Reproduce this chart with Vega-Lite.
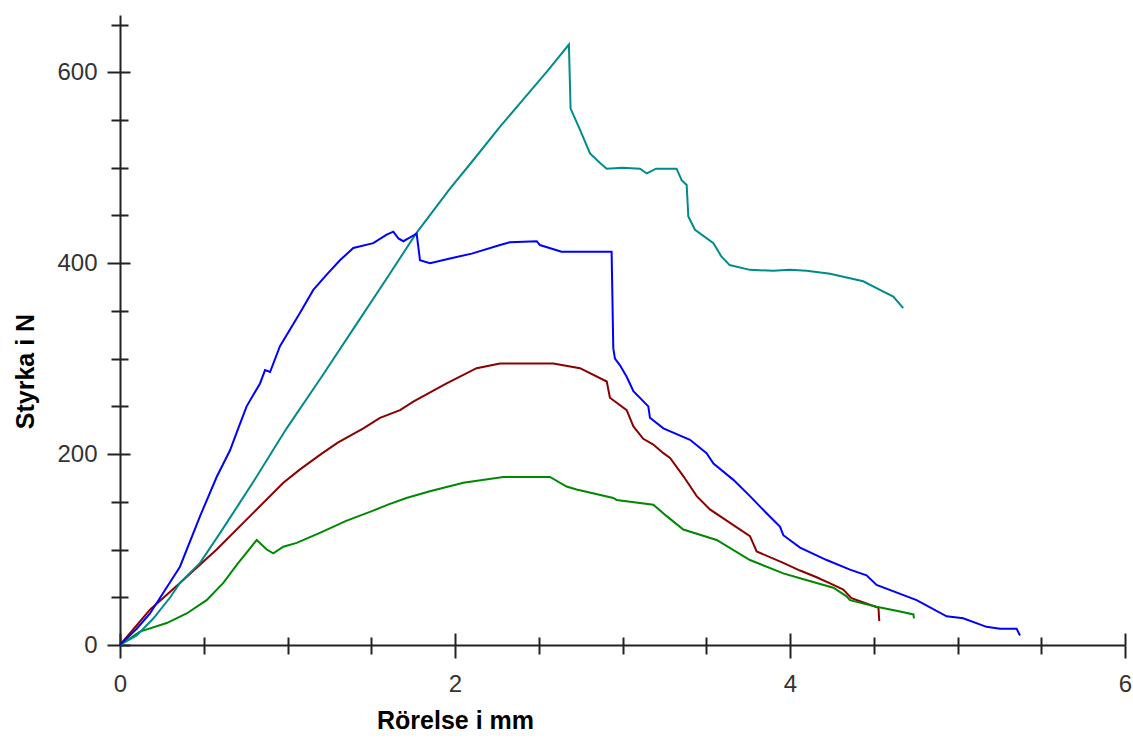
{
  "$schema": "https://vega.github.io/schema/vega-lite/v6.json",
  "width": 1005,
  "height": 630,
  "autosize": "none",
  "padding": {"left": 120, "top": 15, "right": 8, "bottom": 93},
  "background": "white",
  "config": {"view": {"stroke": null}, "font": "Liberation Sans"},
  "data": {"values": [
    {"s":"teal","i":0,"x":0,"y":0},{"s":"teal","i":1,"x":0.1,"y":10},{"s":"teal","i":2,"x":0.2,"y":28},{"s":"teal","i":3,"x":0.3,"y":50},{"s":"teal","i":4,"x":0.358,"y":65},{"s":"teal","i":5,"x":0.478,"y":86},{"s":"teal","i":6,"x":0.6,"y":118},{"s":"teal","i":7,"x":0.7,"y":145},{"s":"teal","i":8,"x":0.8,"y":172},{"s":"teal","i":9,"x":0.913,"y":204},{"s":"teal","i":10,"x":0.995,"y":227},{"s":"teal","i":11,"x":1.2,"y":280},{"s":"teal","i":12,"x":1.4,"y":333},{"s":"teal","i":13,"x":1.6,"y":386},{"s":"teal","i":14,"x":1.767,"y":431},{"s":"teal","i":15,"x":1.97,"y":478},{"s":"teal","i":16,"x":2.1,"y":506},{"s":"teal","i":17,"x":2.269,"y":543},{"s":"teal","i":18,"x":2.4,"y":570},{"s":"teal","i":19,"x":2.55,"y":601},{"s":"teal","i":20,"x":2.68,"y":629},{"s":"teal","i":21,"x":2.69,"y":562},{"s":"teal","i":22,"x":2.746,"y":540},{"s":"teal","i":23,"x":2.806,"y":515},{"s":"teal","i":24,"x":2.866,"y":505},{"s":"teal","i":25,"x":2.906,"y":499},{"s":"teal","i":26,"x":3.0,"y":500},{"s":"teal","i":27,"x":3.104,"y":499},{"s":"teal","i":28,"x":3.145,"y":494},{"s":"teal","i":29,"x":3.2,"y":499},{"s":"teal","i":30,"x":3.323,"y":499},{"s":"teal","i":31,"x":3.353,"y":487},{"s":"teal","i":32,"x":3.383,"y":482},{"s":"teal","i":33,"x":3.393,"y":449},{"s":"teal","i":34,"x":3.433,"y":435},{"s":"teal","i":35,"x":3.543,"y":421},{"s":"teal","i":36,"x":3.59,"y":407},{"s":"teal","i":37,"x":3.64,"y":398},{"s":"teal","i":38,"x":3.76,"y":393},{"s":"teal","i":39,"x":3.9,"y":392},{"s":"teal","i":40,"x":4.0,"y":393},{"s":"teal","i":41,"x":4.1,"y":392},{"s":"teal","i":42,"x":4.239,"y":389},{"s":"teal","i":43,"x":4.437,"y":381},{"s":"teal","i":44,"x":4.537,"y":372},{"s":"teal","i":45,"x":4.617,"y":365},{"s":"teal","i":46,"x":4.676,"y":353},
    {"s":"blue","i":0,"x":0,"y":0},{"s":"blue","i":1,"x":0.01,"y":2},{"s":"blue","i":2,"x":0.1,"y":17},{"s":"blue","i":3,"x":0.179,"y":33},{"s":"blue","i":4,"x":0.358,"y":82},{"s":"blue","i":5,"x":0.478,"y":135},{"s":"blue","i":6,"x":0.577,"y":176},{"s":"blue","i":7,"x":0.657,"y":204},{"s":"blue","i":8,"x":0.706,"y":227},{"s":"blue","i":9,"x":0.756,"y":250},{"s":"blue","i":10,"x":0.836,"y":274},{"s":"blue","i":11,"x":0.866,"y":288},{"s":"blue","i":12,"x":0.896,"y":286},{"s":"blue","i":13,"x":0.955,"y":313},{"s":"blue","i":14,"x":1.075,"y":348},{"s":"blue","i":15,"x":1.154,"y":372},{"s":"blue","i":16,"x":1.234,"y":388},{"s":"blue","i":17,"x":1.313,"y":403},{"s":"blue","i":18,"x":1.393,"y":416},{"s":"blue","i":19,"x":1.512,"y":421},{"s":"blue","i":20,"x":1.592,"y":430},{"s":"blue","i":21,"x":1.632,"y":433},{"s":"blue","i":22,"x":1.662,"y":426},{"s":"blue","i":23,"x":1.692,"y":423},{"s":"blue","i":24,"x":1.751,"y":429},{"s":"blue","i":25,"x":1.771,"y":431},{"s":"blue","i":26,"x":1.791,"y":403},{"s":"blue","i":27,"x":1.851,"y":400},{"s":"blue","i":28,"x":1.97,"y":405},{"s":"blue","i":29,"x":2.1,"y":410},{"s":"blue","i":30,"x":2.269,"y":419},{"s":"blue","i":31,"x":2.328,"y":422},{"s":"blue","i":32,"x":2.488,"y":423},{"s":"blue","i":33,"x":2.507,"y":419},{"s":"blue","i":34,"x":2.636,"y":412},{"s":"blue","i":35,"x":2.935,"y":412},{"s":"blue","i":36,"x":2.945,"y":311},{"s":"blue","i":37,"x":2.955,"y":300},{"s":"blue","i":38,"x":2.985,"y":293},{"s":"blue","i":39,"x":3.025,"y":281},{"s":"blue","i":40,"x":3.065,"y":266},{"s":"blue","i":41,"x":3.154,"y":250},{"s":"blue","i":42,"x":3.164,"y":238},{"s":"blue","i":43,"x":3.244,"y":227},{"s":"blue","i":44,"x":3.403,"y":215},{"s":"blue","i":45,"x":3.502,"y":201},{"s":"blue","i":46,"x":3.543,"y":190},{"s":"blue","i":47,"x":3.662,"y":173},{"s":"blue","i":48,"x":3.761,"y":156},{"s":"blue","i":49,"x":3.86,"y":138},{"s":"blue","i":50,"x":3.94,"y":124},{"s":"blue","i":51,"x":3.96,"y":115},{"s":"blue","i":52,"x":4.06,"y":102},{"s":"blue","i":53,"x":4.219,"y":89},{"s":"blue","i":54,"x":4.358,"y":79},{"s":"blue","i":55,"x":4.457,"y":73},{"s":"blue","i":56,"x":4.517,"y":63},{"s":"blue","i":57,"x":4.756,"y":47},{"s":"blue","i":58,"x":4.935,"y":30},{"s":"blue","i":59,"x":5.034,"y":28},{"s":"blue","i":60,"x":5.173,"y":19},{"s":"blue","i":61,"x":5.254,"y":17},{"s":"blue","i":62,"x":5.353,"y":17},{"s":"blue","i":63,"x":5.373,"y":10},
    {"s":"red","i":0,"x":0,"y":0},{"s":"red","i":1,"x":0.179,"y":37},{"s":"red","i":2,"x":0.358,"y":65},{"s":"red","i":3,"x":0.577,"y":100},{"s":"red","i":4,"x":0.776,"y":135},{"s":"red","i":5,"x":0.975,"y":170},{"s":"red","i":6,"x":1.075,"y":184},{"s":"red","i":7,"x":1.2,"y":200},{"s":"red","i":8,"x":1.3,"y":212},{"s":"red","i":9,"x":1.453,"y":227},{"s":"red","i":10,"x":1.552,"y":238},{"s":"red","i":11,"x":1.672,"y":246},{"s":"red","i":12,"x":1.751,"y":255},{"s":"red","i":13,"x":1.95,"y":274},{"s":"red","i":14,"x":2.129,"y":290},{"s":"red","i":15,"x":2.269,"y":295},{"s":"red","i":16,"x":2.587,"y":295},{"s":"red","i":17,"x":2.746,"y":290},{"s":"red","i":18,"x":2.906,"y":276},{"s":"red","i":19,"x":2.925,"y":259},{"s":"red","i":20,"x":3.025,"y":246},{"s":"red","i":21,"x":3.065,"y":229},{"s":"red","i":22,"x":3.124,"y":216},{"s":"red","i":23,"x":3.184,"y":210},{"s":"red","i":24,"x":3.244,"y":201},{"s":"red","i":25,"x":3.284,"y":196},{"s":"red","i":26,"x":3.363,"y":177},{"s":"red","i":27,"x":3.443,"y":156},{"s":"red","i":28,"x":3.522,"y":142},{"s":"red","i":29,"x":3.642,"y":128},{"s":"red","i":30,"x":3.761,"y":114},{"s":"red","i":31,"x":3.801,"y":98},{"s":"red","i":32,"x":3.96,"y":86},{"s":"red","i":33,"x":4.06,"y":78},{"s":"red","i":34,"x":4.159,"y":71},{"s":"red","i":35,"x":4.259,"y":63},{"s":"red","i":36,"x":4.318,"y":58},{"s":"red","i":37,"x":4.367,"y":49},{"s":"red","i":38,"x":4.528,"y":39},{"s":"red","i":39,"x":4.533,"y":25},
    {"s":"green","i":0,"x":0,"y":0},{"s":"green","i":1,"x":0.119,"y":14},{"s":"green","i":2,"x":0.279,"y":23},{"s":"green","i":3,"x":0.398,"y":33},{"s":"green","i":4,"x":0.517,"y":47},{"s":"green","i":5,"x":0.617,"y":65},{"s":"green","i":6,"x":0.697,"y":84},{"s":"green","i":7,"x":0.816,"y":110},{"s":"green","i":8,"x":0.876,"y":100},{"s":"green","i":9,"x":0.915,"y":96},{"s":"green","i":10,"x":0.975,"y":103},{"s":"green","i":11,"x":1.055,"y":107},{"s":"green","i":12,"x":1.2,"y":118},{"s":"green","i":13,"x":1.35,"y":130},{"s":"green","i":14,"x":1.5,"y":140},{"s":"green","i":15,"x":1.6,"y":147},{"s":"green","i":16,"x":1.71,"y":154},{"s":"green","i":17,"x":1.85,"y":161},{"s":"green","i":18,"x":2.05,"y":170},{"s":"green","i":19,"x":2.288,"y":176},{"s":"green","i":20,"x":2.567,"y":176},{"s":"green","i":21,"x":2.666,"y":166},{"s":"green","i":22,"x":2.726,"y":163},{"s":"green","i":23,"x":2.945,"y":154},{"s":"green","i":24,"x":2.965,"y":152},{"s":"green","i":25,"x":3.184,"y":147},{"s":"green","i":26,"x":3.264,"y":135},{"s":"green","i":27,"x":3.363,"y":121},{"s":"green","i":28,"x":3.562,"y":110},{"s":"green","i":29,"x":3.761,"y":89},{"s":"green","i":30,"x":3.96,"y":75},{"s":"green","i":31,"x":4.06,"y":70},{"s":"green","i":32,"x":4.159,"y":65},{"s":"green","i":33,"x":4.259,"y":60},{"s":"green","i":34,"x":4.338,"y":51},{"s":"green","i":35,"x":4.358,"y":47},{"s":"green","i":36,"x":4.517,"y":40},{"s":"green","i":37,"x":4.657,"y":35},{"s":"green","i":38,"x":4.737,"y":32},{"s":"green","i":39,"x":4.74,"y":28}
  ]},
  "encoding": {
    "color": {
      "field": "s", "type": "nominal",
      "scale": {"domain": ["blue","teal","red","green"], "range": ["#0000ff","#008b8b","#8b0000","#008800"]},
      "legend": null
    },
    "order": {"field": "i", "type": "quantitative"}
  },
  "layer": [
    {
      "transform": [{"filter": "datum.s === 'red' || datum.s === 'green'"}],
      "mark": {"type": "line", "strokeWidth": 2},
      "encoding": {
        "x": {
          "field": "x", "type": "quantitative",
          "scale": {"domain": [0, 6], "nice": false, "zero": false},
          "axis": {
            "orient": "top", "offset": -630,
            "title": null, "labels": false, "domain": false, "grid": false,
            "values": [0,0.5,1,1.5,2,2.5,3,3.5,4,4.5,5,5.5,6],
            "tickColor": "#222", "tickWidth": 2,
            "tickSize": {"condition": {"test": "datum.value % 2 === 0", "value": 12}, "value": 8}
          }
        },
        "y": {
          "field": "y", "type": "quantitative",
          "scale": {"domain": [0, 660], "nice": false, "zero": true},
          "axis": {
            "orient": "right", "offset": -1005,
            "title": null, "labels": false, "domain": false, "grid": false,
            "values": [0,50,100,150,200,250,300,350,400,450,500,550,600,650],
            "tickColor": "#222", "tickWidth": 2,
            "tickSize": {"condition": {"test": "datum.value % 200 === 0", "value": 10}, "value": 8}
          }
        }
      }
    },
    {
      "transform": [{"filter": "datum.s === 'blue' || datum.s === 'teal'"}],
      "mark": {"type": "line", "strokeWidth": 2},
      "encoding": {
        "x": {
          "field": "x", "type": "quantitative",
          "scale": {"domain": [0, 6], "nice": false, "zero": false},
          "axis": {
            "orient": "bottom",
            "title": "Rörelse i mm",
            "values": [0,0.5,1,1.5,2,2.5,3,3.5,4,4.5,5,5.5,6],
            "labelExpr": "datum.value % 2 === 0 ? '' + datum.value : ''",
            "grid": false,
            "domainColor": "#222", "domainWidth": 2,
            "tickColor": "#222", "tickWidth": 2,
            "tickSize": {"condition": {"test": "datum.value % 2 === 0", "value": 13}, "value": 9},
            "labelFont": "Liberation Sans", "labelFontSize": 24, "labelColor": "#333",
            "labelPadding": 14, "labelOverlap": false, "labelFlush": false,
            "titleFont": "Liberation Sans", "titleFontSize": 25, "titleFontWeight": "bold", "titleColor": "#000",
            "titleX": 335, "titleY": 75, "titleAlign": "center", "titleBaseline": "middle"
          }
        },
        "y": {
          "field": "y", "type": "quantitative",
          "scale": {"domain": [0, 660], "nice": false, "zero": true},
          "axis": {
            "orient": "left",
            "title": "Styrka i N",
            "values": [0,50,100,150,200,250,300,350,400,450,500,550,600,650],
            "labelExpr": "datum.value % 200 === 0 ? '' + datum.value : ''",
            "grid": false,
            "domainColor": "#222", "domainWidth": 2,
            "tickColor": "#222", "tickWidth": 2,
            "tickSize": {"condition": {"test": "datum.value % 200 === 0", "value": 13}, "value": 9},
            "labelFont": "Liberation Sans", "labelFontSize": 24, "labelColor": "#333",
            "labelPadding": 10, "labelOverlap": false, "labelFlush": false,
            "titleFont": "Liberation Sans", "titleFontSize": 25, "titleFontWeight": "bold", "titleColor": "#000",
            "titleX": -95, "titleY": 356, "titleAlign": "center", "titleBaseline": "middle", "titleAngle": 270
          }
        }
      }
    }
  ],
  "resolve": {"axis": {"x": "independent", "y": "independent"}}
}
